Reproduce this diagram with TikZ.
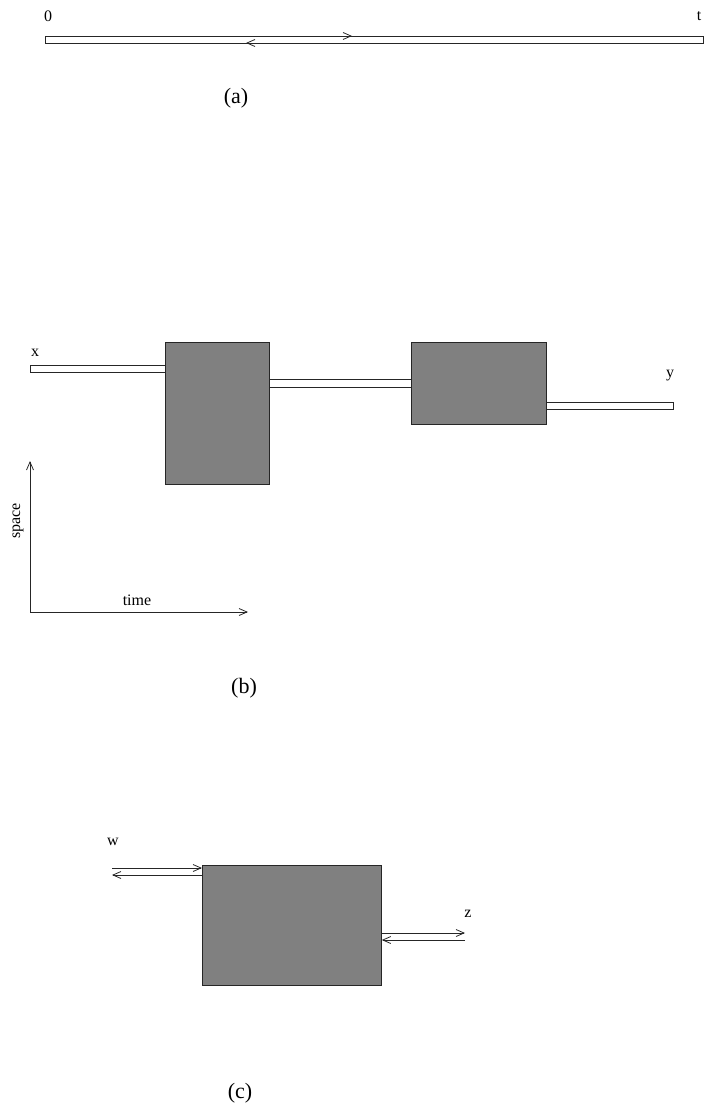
\documentclass[tikz,border=0pt]{standalone}
\usepackage{fontspec}
\setmainfont{Liberation Serif}
\usetikzlibrary{arrows.meta}
\begin{document}
\begin{tikzpicture}[x=1pt,y={(0pt,-1pt)},
  lbl/.style={inner sep=0pt,font=\fontsize{16}{16}\selectfont},
  captxt/.style={inner sep=0pt,font=\fontsize{22}{22}\selectfont},
  bar/.style={draw=black!85,line width=0.8pt,fill=white},
  blk/.style={draw=black!85,line width=0.8pt,fill=black!50,inner sep=0pt,anchor=north west},
  arr/.style={draw=black!85,line width=0.8pt,-{Straight Barb[length=8pt,width=7pt]}}]
\useasboundingbox (0,0) rectangle (705,1107);
% (a)
\node[lbl] (zero) at (48,16) {0};
\node[lbl] (tl) at (699,16) {t};
\draw[bar] (45,36) rectangle (703,43);
\coordinate (a1) at (215,36);
\coordinate (a2) at (352,36);
\coordinate (a3) at (352,43);
\coordinate (a4) at (246,43);
\draw[arr] (a1) -- (a2);
\draw[arr] (a3) -- (a4);
\node[captxt] (capa) at (236,98) {(a)};
% (b)
\node[lbl] (xl) at (35,353) {x};
\node[blk,minimum width=104pt,minimum height=142pt] (b1) at (165,342) {};
\node[blk,minimum width=135pt,minimum height=82pt] (b2) at (411,342) {};
\draw[bar] (30,365) rectangle (b1.west |- 0,372);
\draw[bar] (b1.east |- 0,379) rectangle (b2.west |- 0,387);
\draw[bar] (b2.east |- 0,402) rectangle (673,409);
\node[lbl] (yl) at (670,376) {y};
\coordinate (o) at (30,612);
\coordinate (up) at (30,461);
\coordinate (rt) at (248,612);
\draw[arr] (o) -- (up);
\draw[arr] (o) -- (rt);
\node[lbl,rotate=90] (sp) at (18,521) {space};
\node[lbl] (tm) at (137,600) {time};
\node[captxt] (capb) at (244,688) {(b)};
% (c)
\node[blk,minimum width=179pt,minimum height=120pt] (c1) at (202,865) {};
\node[lbl] (wl) at (113,842) {w};
\coordinate (w1) at (112,868);
\coordinate (w2) at (112,875);
\draw[arr] (w1) -- (c1.west |- w1);
\draw[arr] (c1.west |- w2) -- (w2);
\node[lbl] (zl) at (468,914) {z};
\coordinate (z1) at (465,933);
\coordinate (z2) at (465,940);
\draw[arr] (c1.east |- z1) -- (z1);
\draw[arr] (z2) -- (c1.east |- z2);
\node[captxt] (capc) at (240,1093) {(c)};
\end{tikzpicture}
\end{document}
